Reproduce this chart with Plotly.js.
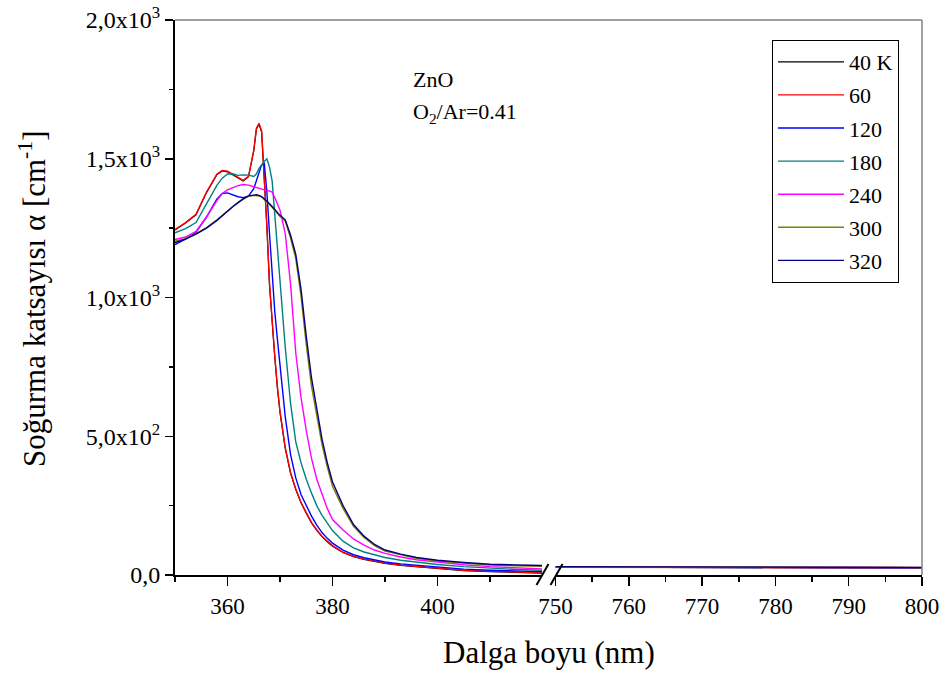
<!DOCTYPE html>
<html>
<head>
<meta charset="utf-8">
<script src="https://cdn.plot.ly/plotly-3.0.1.min.js"></script>
<style>html,body{margin:0;padding:0;background:#fff;}#chart{width:946px;height:673px;}</style>
</head>
<body>
<div id="chart"></div>
<script>
// Wavelength grid (nm), left segment of broken axis
const wlLeft = [350, 352, 354, 356, 358, 359, 360, 361, 362, 363, 364, 365, 365.5, 366, 366.5, 367, 367.5, 368, 368.5, 369, 369.5, 370, 371, 372, 373, 374, 375, 376, 377, 378, 379, 380, 382, 384, 386, 388, 390, 393, 396, 400, 405, 410, 415, 420];
// Right segment of broken axis
const wlRight = [750, 760, 770, 780, 790, 800];

const seriesNames = ["40 K", "60", "120", "180", "240", "300", "320"];

const a40 = [1243, 1268, 1298, 1378, 1443, 1456, 1453, 1443, 1430, 1420, 1435, 1528, 1606, 1624, 1596, 1445, 1255, 1045, 895, 785, 675, 585, 455, 367, 308, 260, 223, 188, 161, 138, 120, 104, 81, 66, 56, 48, 42, 35, 30, 23, 16, 12, 9, 7];
const a60 = [1245, 1270, 1300, 1380, 1445, 1458, 1455, 1445, 1432, 1422, 1437, 1530, 1610, 1628, 1600, 1450, 1260, 1050, 900, 790, 680, 590, 460, 370, 310, 262, 225, 190, 163, 140, 122, 106, 82, 67, 57, 49, 43, 36, 31, 24, 17, 13, 10, 8];
const a120 = [1191, 1210, 1235, 1290, 1355, 1375, 1377, 1370, 1363, 1360, 1365, 1392, 1420, 1450, 1478, 1485, 1380, 1230, 1080, 950, 850, 750, 570, 435, 350, 290, 250, 212, 180, 153, 132, 115, 90, 73, 62, 54, 47, 40, 35, 28, 21, 17, 14, 12];
const a180 = [1233, 1248, 1270, 1340, 1405, 1430, 1445, 1446, 1440, 1442, 1441, 1436, 1445, 1465, 1480, 1490, 1500, 1470, 1420, 1300, 1180, 1050, 820, 620, 480, 405, 345, 295, 250, 215, 185, 160, 122, 98, 83, 72, 63, 53, 46, 38, 30, 24, 20, 17];
const a240 = [1209, 1218, 1238, 1290, 1350, 1375, 1388, 1395, 1403, 1407, 1405, 1399, 1396, 1393, 1390, 1388, 1387, 1384, 1380, 1360, 1340, 1315, 1230, 1050, 800, 640, 520, 420, 345, 290, 240, 200, 162, 130, 108, 90, 78, 65, 55, 47, 37, 30, 25, 22];
const a300 = [1203, 1212, 1230, 1252, 1280, 1297, 1313, 1328, 1342, 1355, 1365, 1368, 1368, 1366, 1362, 1354, 1346, 1335, 1325, 1313, 1300, 1292, 1275, 1215, 1140, 1005, 830, 680, 575, 470, 390, 320, 240, 175, 135, 106, 86, 72, 60, 50, 42, 36, 33, 31];
const a320 = [1198, 1210, 1228, 1250, 1278, 1295, 1312, 1327, 1342, 1356, 1366, 1370, 1370, 1368, 1364, 1356, 1348, 1338, 1328, 1316, 1305, 1296, 1280, 1225, 1155, 1030, 860, 710, 600, 490, 405, 335, 250, 182, 140, 110, 90, 75, 63, 53, 45, 39, 36, 34];

const r40 = [28, 27, 27, 26, 26, 25];
const r60 = [28, 28, 27, 27, 26, 26];
const r120 = [29, 28, 28, 27, 27, 26];
const r180 = [29, 28, 27, 27, 26, 26];
const r240 = [29, 29, 28, 27, 27, 26];
const r300 = [30, 29, 28, 28, 27, 27];
const r320 = [30, 29, 29, 28, 27, 27];

const leftData = [a40, a60, a120, a180, a240, a300, a320];
const rightData = [r40, r60, r120, r180, r240, r300, r320];
const colors = ["#000000", "#FF0000", "#0000FF", "#008080", "#FF00FF", "#808000", "#000080"];

const yTickVals = [0, 500, 1000, 1500, 2000];
const yTickText = ["0,0", "5,0x10<sup>2</sup>", "1,0x10<sup>3</sup>", "1,5x10<sup>3</sup>", "2,0x10<sup>3</sup>"];
const xTickVals = [360, 380, 400];
const x2TickVals = [750, 760, 770, 780, 790, 800];

const FONT = "Liberation Serif, Times New Roman, serif";

const traces = [];
seriesNames.forEach((name, i) => {
  traces.push({
    x: wlLeft, y: leftData[i], xaxis: "x", yaxis: "y", type: "scatter", mode: "lines",
    name: name, legendgroup: "g" + i,
    line: {color: colors[i], width: i === 0 ? 1.2 : 1.4}
  });
});
seriesNames.forEach((name, i) => {
  traces.push({
    x: wlRight, y: rightData[i], xaxis: "x2", yaxis: "y", type: "scatter", mode: "lines",
    name: name, legendgroup: "g" + i, showlegend: false,
    line: {color: colors[i], width: i === 0 ? 1.2 : 1.4}
  });
});

// pixel helpers for decorations (paper coords)
const L = 175, R = 24, T = 20, B = 98, W = 946, H = 673;
const pw = W - L - R, ph = H - T - B;
const px = v => (v - L) / pw;
const py = v => (H - B - v) / ph;

const axisCommon = {
  showline: true, linecolor: "#000", linewidth: 2, ticks: "outside", ticklen: 9, tickwidth: 1.5,
  tickcolor: "#000", showgrid: false, zeroline: false, tickfont: {family: FONT, size: 23, color: "#000"}
};

const layout = {
  width: W, height: H,
  margin: {l: L, r: R, t: T, b: B},
  paper_bgcolor: "#fff", plot_bgcolor: "#fff",
  font: {family: FONT, color: "#000"},
  xaxis: Object.assign({}, axisCommon, {
    domain: [0, px(542)], range: [350, 419.9], anchor: "y",
    tickmode: "array", tickvals: xTickVals,
    minor: {tickvals: [350, 370, 390, 410], ticks: "outside", ticklen: 5, tickwidth: 1.5, tickcolor: "#000"}
  }),
  xaxis2: Object.assign({}, axisCommon, {
    domain: [px(555.5), 1], range: [750, 800], anchor: "y",
    tickmode: "array", tickvals: x2TickVals,
    minor: {tickvals: [755, 765, 775, 785, 795], ticks: "outside", ticklen: 5, tickwidth: 1.5, tickcolor: "#000"}
  }),
  yaxis: Object.assign({}, axisCommon, {
    domain: [0, 1], range: [0, 2000], anchor: "x",
    tickmode: "array", tickvals: yTickVals, ticktext: yTickText, ticklen: 8,
    tickfont: {family: FONT, size: 24, color: "#000"},
    minor: {tickvals: [250, 750, 1250, 1750], ticks: "outside", ticklen: 4, tickwidth: 1.5, tickcolor: "#000"}
  }),
  showlegend: true,
  legend: {
    x: px(772), y: py(40), xanchor: "left", yanchor: "top",
    bordercolor: "#000", borderwidth: 1, bgcolor: "#fff",
    font: {family: FONT, size: 22, color: "#000"},
    tracegroupgap: 1.5, itemwidth: 66
  },
  shapes: [
    // top and right frame lines
    {type: "line", xref: "paper", yref: "paper", x0: 0, x1: 1, y0: 1, y1: 1, line: {color: "#808080", width: 1.5}},
    {type: "line", xref: "paper", yref: "paper", x0: 1, x1: 1, y0: 0, y1: 1, line: {color: "#808080", width: 1.5}},
    // axis break marks
    {type: "line", xref: "paper", yref: "paper", x0: px(536.5), x1: px(548.5), y0: py(585), y1: py(564), line: {color: "#000", width: 2}},
    {type: "line", xref: "paper", yref: "paper", x0: px(550.5), x1: px(562.5), y0: py(585), y1: py(564), line: {color: "#000", width: 2}}
  ],
  annotations: [
    {xref: "paper", yref: "paper", x: px(411), y: py(79), xanchor: "left", yanchor: "middle", showarrow: false,
     text: "ZnO", font: {family: FONT, size: 22, color: "#000"}},
    {xref: "paper", yref: "paper", x: px(411), y: py(113), xanchor: "left", yanchor: "middle", showarrow: false,
     text: "O<sub>2</sub>/Ar=0.41", font: {family: FONT, size: 22, color: "#000"}},
    {xref: "paper", yref: "paper", x: px(549), y: py(652), xanchor: "center", yanchor: "middle", showarrow: false,
     text: "Dalga boyu (nm)", font: {family: FONT, size: 31, color: "#000"}},
    {xref: "paper", yref: "paper", x: px(32), y: py(299), xanchor: "center", yanchor: "middle", showarrow: false,
     textangle: -90, text: "Soğurma katsayısı α [cm<sup>-1</sup>]", font: {family: FONT, size: 31, color: "#000"}}
  ]
};

Plotly.newPlot("chart", traces, layout, {displayModeBar: false, staticPlot: true});
</script>
</body>
</html>
